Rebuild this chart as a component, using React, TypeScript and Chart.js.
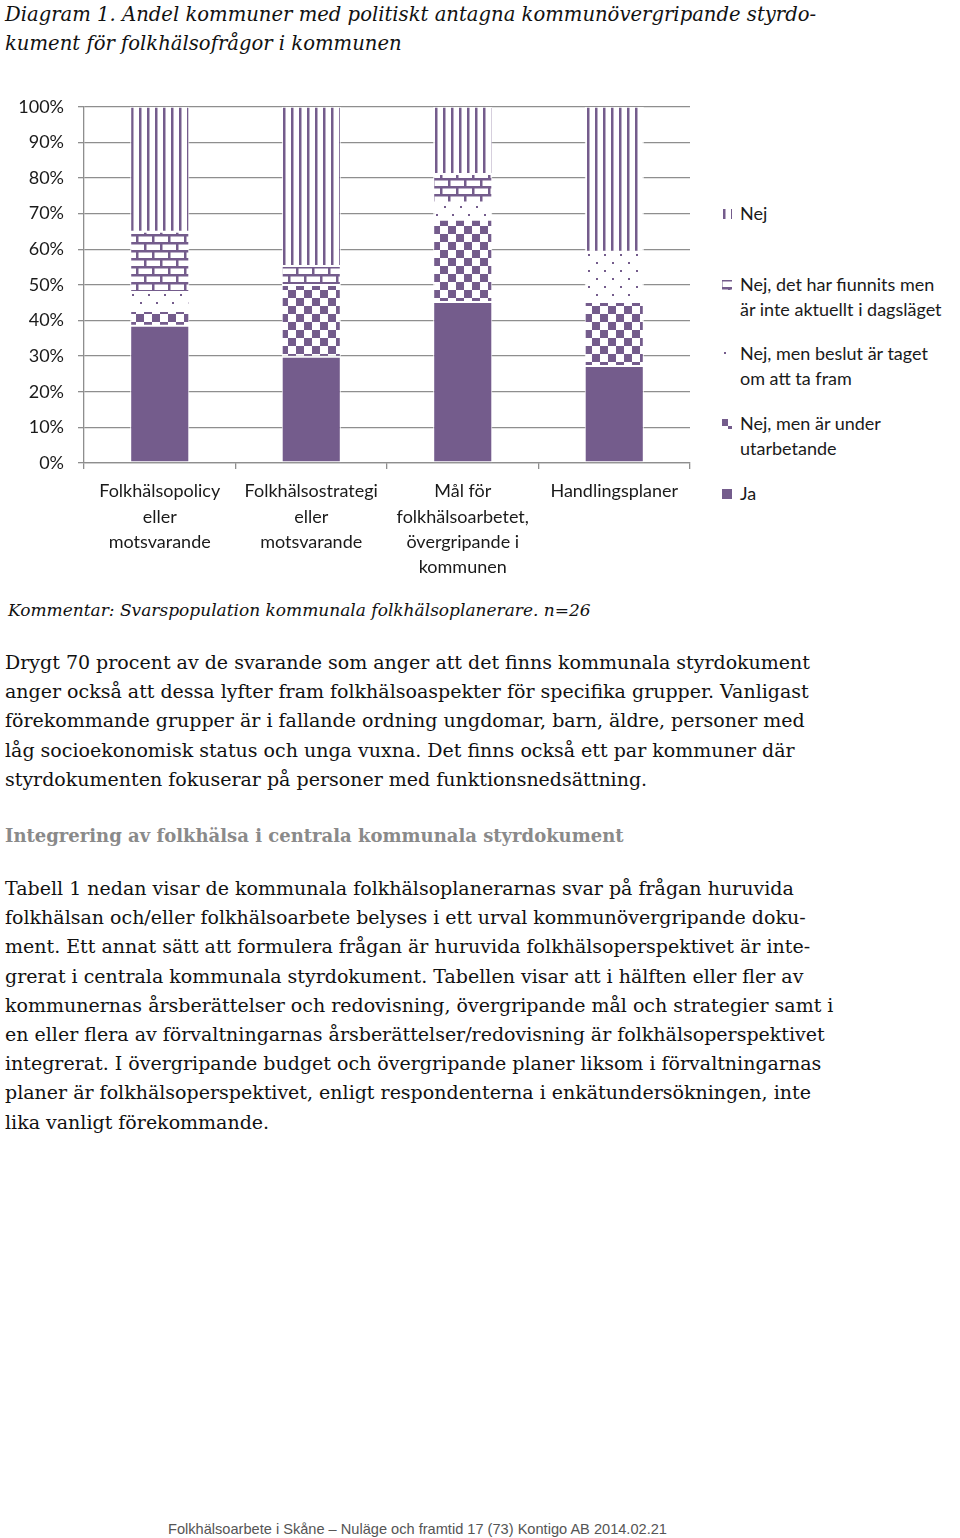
import React, { useEffect, useRef } from 'react';
import { Chart, registerables } from 'chart.js';

Chart.register(...registerables);

// ---------- data ----------
const categories: string[][] = [
  ['Folkhälsopolicy', 'eller', 'motsvarande'],
  ['Folkhälsostrategi', 'eller', 'motsvarande'],
  ['Mål för', 'folkhälsoarbetet,', 'övergripande i', 'kommunen'],
  ['Handlingsplaner'],
];
const jaValues = [38.5, 29.8, 45.2, 27.2];
const underArbeteValues = [4.2, 20.2, 23.1, 18.0];
const beslutValues = [5.3, 0, 4.8, 14.1];
const funnitsValues = [16.9, 5.3, 8.0, 0];
const nejValues = [35.1, 44.7, 18.9, 40.7];
const yTickValues = [0, 10, 20, 30, 40, 50, 60, 70, 80, 90, 100];

const seriesLabels = {
  ja: 'Ja',
  underArbete: 'Nej, men är under utarbetande',
  beslut: 'Nej, men beslut är taget om att ta fram',
  funnits: 'Nej, det har fiunnits men är inte aktuellt i dagsläget',
  nej: 'Nej',
};

// ---------- style ----------
const PURPLE = '#745c8c';
const GRID = '#8e8e8e';
const AXIS_FONT = 'Lato';

type Kind = 'solid' | 'vlines' | 'bricks' | 'dots' | 'checker';

function makeTile(kind: Kind): HTMLCanvasElement {
  const c = document.createElement('canvas');
  c.width = 16;
  c.height = 16;
  const g = c.getContext('2d') as CanvasRenderingContext2D;
  g.fillStyle = '#ffffff';
  g.fillRect(0, 0, 16, 16);
  g.fillStyle = PURPLE;
  switch (kind) {
    case 'solid':
      g.fillRect(0, 0, 16, 16);
      break;
    case 'vlines':
      g.fillRect(3, 0, 2.5, 16);
      g.fillRect(11, 0, 2.5, 16);
      break;
    case 'bricks':
      g.fillRect(0, 0, 16, 2.5);
      g.fillRect(0, 8, 16, 2.5);
      g.fillRect(0, 0, 2.5, 8);
      g.fillRect(8, 8, 2.5, 8);
      break;
    case 'dots':
      g.fillRect(4, 4, 2, 2);
      g.fillRect(12, 12, 2, 2);
      break;
    case 'checker':
      g.fillRect(0, 0, 8, 8);
      g.fillRect(8, 8, 8, 8);
      break;
  }
  return c;
}

const legendItems: { kind: Kind; lines: string[]; top: number }[] = [
  { kind: 'vlines', lines: ['Nej'], top: 201 },
  { kind: 'bricks', lines: ['Nej, det har fiunnits men', 'är inte aktuellt i dagsläget'], top: 272 },
  { kind: 'dots', lines: ['Nej, men beslut är taget', 'om att ta fram'], top: 341 },
  { kind: 'checker', lines: ['Nej, men är under', 'utarbetande'], top: 411 },
  { kind: 'solid', lines: ['Ja'], top: 481 },
];

const para1 = [
  'Drygt 70 procent av de svarande som anger att det finns kommunala styrdokument',
  'anger också att dessa lyfter fram folkhälsoaspekter för specifika grupper. Vanligast',
  'förekommande grupper är i fallande ordning ungdomar, barn, äldre, personer med',
  'låg socioekonomisk status och unga vuxna. Det finns också ett par kommuner där',
  'styrdokumenten fokuserar på personer med funktionsnedsättning.',
];
const para2 = [
  'Tabell 1 nedan visar de kommunala folkhälsoplanerarnas svar på frågan huruvida',
  'folkhälsan och/eller folkhälsoarbete belyses i ett urval kommunövergripande doku-',
  'ment. Ett annat sätt att formulera frågan är huruvida folkhälsoperspektivet är inte-',
  'grerat i centrala kommunala styrdokument. Tabellen visar att i hälften eller fler av',
  'kommunernas årsberättelser och redovisning, övergripande mål och strategier samt i',
  'en eller flera av förvaltningarnas årsberättelser/redovisning är folkhälsoperspektivet',
  'integrerat. I övergripande budget och övergripande planer liksom i förvaltningarnas',
  'planer är folkhälsoperspektivet, enligt respondenterna i enkätundersökningen, inte',
  'lika vanligt förekommande.',
];

const SERIF = '"DejaVu Serif", "Liberation Serif", serif';

function ChartCanvas() {
  const ref = useRef<HTMLCanvasElement | null>(null);
  useEffect(() => {
    const canvas = ref.current;
    if (!canvas) return;
    const ctx = canvas.getContext('2d') as CanvasRenderingContext2D;
    const pat = (k: Kind) => ctx.createPattern(makeTile(k), 'repeat') as CanvasPattern;
    const common = { borderColor: '#ffffff', borderWidth: 1, borderSkipped: false as const, barPercentage: 0.39, categoryPercentage: 1 };
    const chart = new Chart(canvas, {
      type: 'bar',
      data: {
        labels: categories,
        datasets: [
          { label: seriesLabels.ja, data: jaValues, backgroundColor: PURPLE, ...common },
          { label: seriesLabels.underArbete, data: underArbeteValues, backgroundColor: pat('checker'), ...common },
          { label: seriesLabels.beslut, data: beslutValues, backgroundColor: pat('dots'), ...common },
          { label: seriesLabels.funnits, data: funnitsValues, backgroundColor: pat('bricks'), ...common },
          { label: seriesLabels.nej, data: nejValues, backgroundColor: pat('vlines'), ...common },
        ],
      },
      options: {
        animation: false,
        responsive: false,
        devicePixelRatio: 1,
        layout: { padding: { top: 0, right: 10, left: 0, bottom: 0 } },
        plugins: { legend: { display: false }, tooltip: { enabled: false } },
        scales: {
          x: {
            stacked: true,
            grid: { display: true, drawOnChartArea: false, drawTicks: true, tickLength: 6, offset: true, color: GRID, lineWidth: 1.3 },
            border: { display: true, color: GRID, width: 1.3 },
            ticks: { font: { family: AXIS_FONT, size: 18, lineHeight: 1.4 }, color: '#1a1a1a', padding: 10, maxRotation: 0, autoSkip: false },
            afterFit: (s: any) => { s.height = 119; },
          },
          y: {
            stacked: true,
            min: yTickValues[0],
            max: yTickValues[yTickValues.length - 1],
            afterBuildTicks: (s: any) => { s.ticks = yTickValues.map((v) => ({ value: v })); },
            ticks: { callback: (v: any) => v + '%', font: { family: AXIS_FONT, size: 18 }, color: '#1a1a1a', padding: 14 },
            grid: { color: GRID, lineWidth: 1.3, tickLength: 6 },
            border: { display: true, color: GRID, width: 1.3 },
            afterFit: (s: any) => { s.width = 84; },
          },
        },
      },
    });
    return () => chart.destroy();
  }, []);
  return (
    <canvas
      ref={ref}
      width={700}
      height={500}
      style={{ position: 'absolute', left: 0, top: 82, width: 700, height: 500 }}
    />
  );
}

function LegendIcon({ kind }: { kind: Kind }) {
  const url = makeTile(kind).toDataURL();
  return (
    <div
      style={{
        position: 'absolute',
        left: -18,
        top: 8,
        width: 10,
        height: 10,
        backgroundImage: `url(${url})`,
        backgroundPosition: '-2px -1px',
      }}
    />
  );
}

export default function App() {
  return (
    <div style={{ position: 'absolute', left: 0, top: 0, width: 960, height: 1538, background: '#fff', color: '#111' }}>
      <div style={{ position: 'absolute', left: 5, top: 0, fontFamily: SERIF, fontStyle: 'italic', fontSize: 19.6, lineHeight: '29px', whiteSpace: 'nowrap' }}>
        <div>Diagram 1. Andel kommuner med politiskt antagna kommunövergripande styrdo-</div>
        <div>kument för folkhälsofrågor i kommunen</div>
      </div>

      <ChartCanvas />

      {legendItems.map((it, i) => (
        <div
          key={i}
          style={{ position: 'absolute', left: 740, top: it.top, fontFamily: AXIS_FONT, fontSize: 18, lineHeight: '25px', color: '#1a1a1a', whiteSpace: 'nowrap' }}
        >
          <LegendIcon kind={it.kind} />
          {it.lines.map((l, j) => (
            <div key={j}>{l}</div>
          ))}
        </div>
      ))}

      <div style={{ position: 'absolute', left: 8, top: 598, fontFamily: SERIF, fontStyle: 'italic', fontSize: 17, lineHeight: '24px', whiteSpace: 'nowrap' }}>
        Kommentar: Svarspopulation kommunala folkhälsoplanerare. n=26
      </div>

      <div style={{ position: 'absolute', left: 5, top: 648, fontFamily: SERIF, fontSize: 19, lineHeight: '29.2px', whiteSpace: 'nowrap' }}>
        {para1.map((l, i) => (
          <div key={i}>{l}</div>
        ))}
      </div>

      <div style={{ position: 'absolute', left: 5, top: 821, fontFamily: SERIF, fontWeight: 'bold', fontSize: 18, lineHeight: '29px', color: '#8a8a8a', whiteSpace: 'nowrap' }}>
        Integrering av folkhälsa i centrala kommunala styrdokument
      </div>

      <div style={{ position: 'absolute', left: 5, top: 874, fontFamily: SERIF, fontSize: 19, lineHeight: '29.2px', whiteSpace: 'nowrap' }}>
        {para2.map((l, i) => (
          <div key={i}>{l}</div>
        ))}
      </div>

      <div style={{ position: 'absolute', left: 168, top: 1520, fontFamily: '"Liberation Sans", Arial, sans-serif', fontSize: 14.6, lineHeight: '18px', color: '#555', whiteSpace: 'nowrap' }}>
        Folkhälsoarbete i Skåne – Nuläge och framtid 17 (73) Kontigo AB 2014.02.21
      </div>
    </div>
  );
}
